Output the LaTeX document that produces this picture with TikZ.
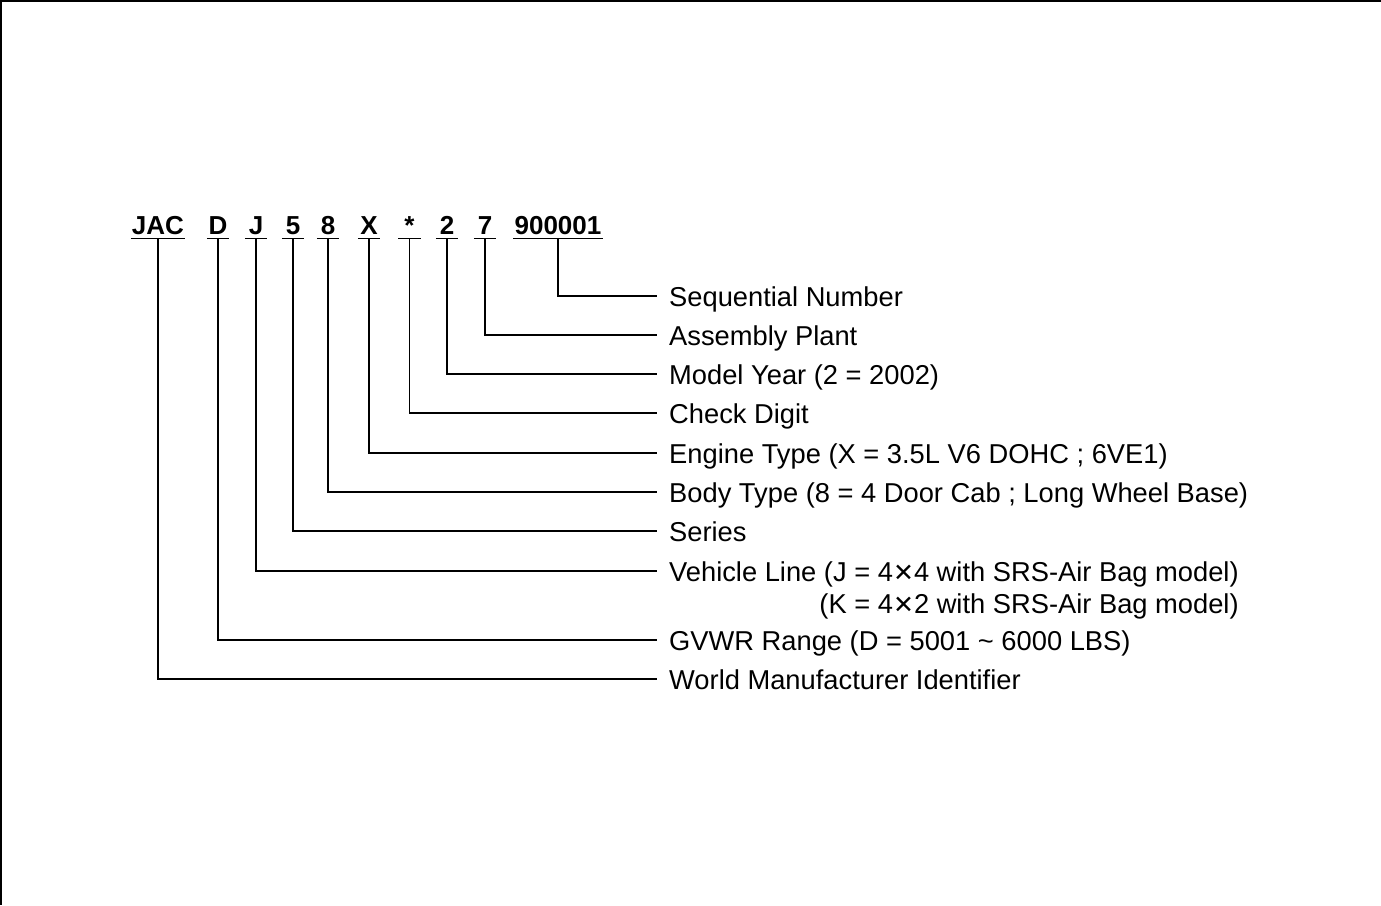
\documentclass[tikz,border=0pt]{standalone}
\usepackage{fontspec}
\setmainfont{Liberation Sans}
\newfontfamily\codefont{Liberation Sans Bold}
\newfontfamily\symfont{DejaVu Sans}
\newcommand{\crossx}{{\symfont\fontsize{25}{30}\selectfont ✕}}
\begin{document}
\begin{tikzpicture}[x=1pt,y=-1pt,
  code/.style={font=\codefont\fontsize{26}{30}\selectfont, anchor=south,
    inner xsep=1pt, inner ysep=0pt, text height=18.5pt, text depth=0pt, minimum width=22pt},
  lab/.style={font=\fontsize{27.3}{32}\selectfont, anchor=west,
    inner sep=0pt, text height=20pt, text depth=0pt},
  wire/.style={line width=1.3pt},
  frame/.style={line width=2.4pt}]
\useasboundingbox (0,0) rectangle (1381,905);
\draw[frame] (1381,1.2) -- (1.2,1.2) -- (1.2,905);
% code characters
\node[code] (c10) at (158,234.5) {JAC};
\node[code] (c9) at (218,234.5) {D};
\node[code] (c8) at (256,234.5) {J};
\node[code] (c7) at (293,234.5) {5};
\node[code] (c6) at (328,234.5) {8};
\node[code] (c5) at (369,234.5) {X};
\node[code] (c4) at (409.5,234.5) {*};
\node[code] (c3) at (447,234.5) {2};
\node[code] (c2) at (485,234.5) {7};
\node[code] (c1) at (558,234.5) {900001};
% labels
\node[lab] (l1) at (669,296) {Sequential Number};
\node[lab] (l2) at (669,335) {Assembly Plant};
\node[lab] (l3) at (669,374) {Model Year (2 = 2002)};
\node[lab] (l4) at (669,413) {Check Digit};
\node[lab] (l5) at (669,453) {Engine Type (X = 3.5L V6 DOHC ; 6VE1)};
\node[lab] (l6) at (669,492) {Body Type (8 = 4 Door Cab ; Long Wheel Base)};
\node[lab] (l7) at (669,531) {Series};
\node[lab] (l8) at (669,571) {Vehicle Line (J = 4\crossx4 with SRS-Air Bag model)};
\node[lab, anchor=east] (l8b) at ([yshift=-32pt]l8.east) {(K = 4\crossx2 with SRS-Air Bag model)};
\node[lab] (l9) at (669,640) {GVWR Range (D = 5001 \textasciitilde\ 6000 LBS)};
\node[lab] (l10) at (669,679) {World Manufacturer Identifier};
% underlines and connectors
\foreach \i in {1,...,10}{
  \draw[wire] ([yshift=-4pt]c\i.south west) -- ([yshift=-4pt]c\i.south east);
  \draw[wire] ([yshift=-4pt]c\i.south) |- ([xshift=-12pt]l\i.west);
}
\end{tikzpicture}
\end{document}
